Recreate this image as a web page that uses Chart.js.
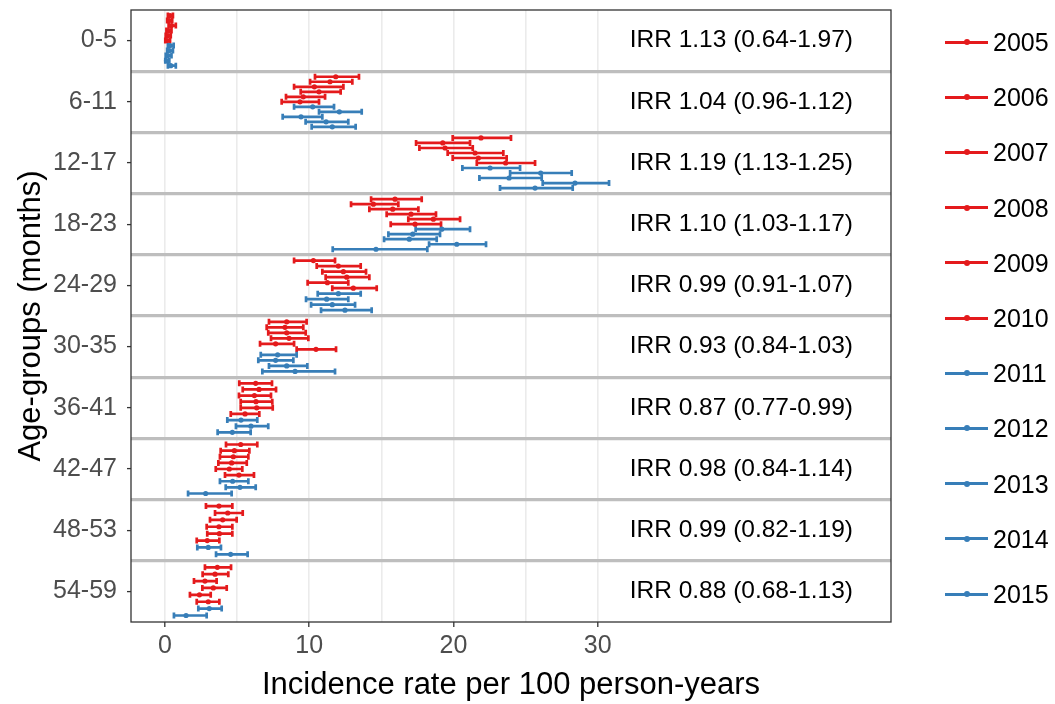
<!DOCTYPE html>
<html>
<head>
<meta charset="utf-8">
<title>Incidence rate by age group</title>
<script src="https://cdn.jsdelivr.net/npm/chart.js@4.4.1/dist/chart.umd.min.js"></script>
<style>
  html, body { margin: 0; padding: 0; background: #fff; }
  #wrap { position: relative; width: 1055px; height: 704px; font-family: "Liberation Sans", Arial, sans-serif; }
  #legend { position: absolute; left: 945px; top: 0; }
  .key { position: absolute; left: 0; width: 110px; height: 30px; }
  .key .seg { position: absolute; left: 0; top: 13.5px; width: 43px; height: 3px; }
  .key .dot { position: absolute; left: 18.5px; top: 12px; width: 6px; height: 6px; border-radius: 50%; }
  .key span { position: absolute; left: 48px; top: 0; font-size: 25px; line-height: 30px; color: #000; }
</style>
</head>
<body>
<div id="wrap">
  <canvas id="chartCanvas" width="1055" height="704"></canvas>
  <div id="legend"></div>
</div>
<script>
const years = [2005, 2006, 2007, 2008, 2009, 2010, 2011, 2012, 2013, 2014, 2015];
const ageGroups = ['0-5', '6-11', '12-17', '18-23', '24-29', '30-35', '36-41', '42-47', '48-53', '54-59'];
const irrLabels = [
  'IRR 1.13 (0.64-1.97)', 'IRR 1.04 (0.96-1.12)', 'IRR 1.19 (1.13-1.25)', 'IRR 1.10 (1.03-1.17)',
  'IRR 0.99 (0.91-1.07)', 'IRR 0.93 (0.84-1.03)', 'IRR 0.87 (0.77-0.99)', 'IRR 0.98 (0.84-1.14)',
  'IRR 0.99 (0.82-1.19)', 'IRR 0.88 (0.68-1.13)'
];
const xTicks = [0, 5, 10, 15, 20, 25, 30];

// one row per age group, one column per year (null = no estimate)
const rateByAge = [
  [0.35, 0.30, 0.45, 0.25, 0.20, 0.15, 0.35, 0.30, 0.20, 0.10, 0.40],
  [11.84, 11.44, 10.36, 10.68, 9.59, 9.36, 10.24, 12.09, 9.43, 11.17, 11.60],
  [21.91, 19.26, 19.42, 21.50, 21.73, 23.62, 22.54, 26.05, 23.86, 28.43, 25.66],
  [15.95, 14.45, 15.79, 17.06, 18.61, 17.34, 19.19, 17.18, 16.94, 20.23, 14.63],
  [10.29, 12.02, 12.37, 12.60, 11.26, 13.06, 12.02, 11.21, 11.60, 12.48, null],
  [8.44, 8.32, 8.44, 8.60, 7.67, 10.47, 7.81, 7.67, 8.44, 9.02, null],
  [6.29, 6.52, 6.20, 6.31, 6.36, 5.55, 5.27, 5.96, 4.67, null, null],
  [5.25, 4.81, 4.74, 4.62, 4.46, 5.13, 4.69, 5.20, 2.82, null, null],
  [3.74, 4.35, 4.00, 3.74, 3.77, 2.93, 3.00, 4.55, null, null, null],
  [3.63, 3.47, 2.77, 3.35, 2.39, 3.00, 3.07, 1.46, null, null, null]
];
const lowerByAge = [
  [0.20, 0.15, 0.25, 0.10, 0.05, 0.02, 0.20, 0.15, 0.05, 0.02, 0.20],
  [10.40, 10.06, 8.95, 9.41, 8.39, 8.09, 8.95, 10.68, 8.16, 9.75, 10.17],
  [19.95, 17.41, 17.64, 19.60, 19.95, 21.62, 20.62, 23.93, 21.80, 26.19, 23.23],
  [14.29, 12.90, 14.17, 15.37, 16.87, 15.65, 17.38, 15.49, 15.19, 18.31, 11.63],
  [8.95, 10.52, 10.91, 11.14, 9.89, 11.60, 10.59, 9.78, 10.13, 10.82, null],
  [7.21, 7.05, 7.16, 7.35, 6.59, 9.13, 6.64, 6.47, 7.21, 6.75, null],
  [5.15, 5.39, 5.13, 5.25, 5.25, 4.56, 4.32, 4.92, 3.65, null, null],
  [4.23, 3.86, 3.81, 3.70, 3.52, 4.16, 3.81, 4.21, 1.60, null, null],
  [2.84, 3.47, 3.12, 2.89, 2.93, 2.20, 2.24, 3.54, null, null, null],
  [2.77, 2.61, 2.01, 2.59, 1.73, 2.20, 2.31, 0.62, null, null, null]
];
const upperByAge = [
  [0.55, 0.50, 0.75, 0.45, 0.40, 0.35, 0.60, 0.55, 0.45, 0.30, 0.75],
  [13.45, 12.99, 12.37, 12.18, 11.10, 10.68, 11.72, 13.64, 10.91, 12.71, 13.22],
  [23.99, 21.15, 21.34, 23.46, 23.69, 25.66, 24.62, 28.20, 26.12, 30.79, 28.27],
  [17.80, 16.18, 17.57, 18.79, 20.46, 19.14, 21.15, 19.07, 18.84, 22.26, 18.19],
  [11.79, 13.57, 13.94, 14.17, 12.71, 14.68, 13.57, 12.71, 13.18, 14.33, null],
  [9.82, 9.59, 9.76, 9.94, 8.95, 11.86, 9.13, 8.90, 9.87, 11.79, null],
  [7.42, 7.70, 7.35, 7.44, 7.47, 6.54, 6.40, 7.16, 5.94, null, null],
  [6.40, 5.85, 5.78, 5.67, 5.36, 6.17, 5.78, 6.29, 4.62, null, null],
  [4.67, 5.39, 4.97, 4.67, 4.67, 3.77, 3.88, 5.73, null, null, null],
  [4.58, 4.39, 3.58, 4.28, 3.17, 3.77, 3.93, 2.89, null, null, null]
];

const RED = '#E41A1C';
const BLUE = '#377EB8';
const FONT = '"Liberation Sans", Arial, sans-serif';
const DODGE = 0.9;

function colorFor(year) {
  return year <= 2010 ? RED : BLUE;
}

// one scatter dataset per year; rows inside an age group are dodged
// over the years that actually have an estimate there
const datasets = years.map(yr => ({
  label: String(yr),
  data: [],
  backgroundColor: colorFor(yr),
  borderColor: colorFor(yr),
  pointRadius: 2.6,
  pointBorderWidth: 0
}));

ageGroups.forEach((g, i) => {
  const present = years.map((_, j) => j).filter(j => rateByAge[i][j] !== null);
  const n = present.length;
  present.forEach((j, k) => {
    datasets[j].data.push({
      x: rateByAge[i][j],
      y: i + (k - (n - 1) / 2) * DODGE / n,
      lo: lowerByAge[i][j],
      hi: upperByAge[i][j]
    });
  });
});

const errorBars = {
  id: 'errorBars',
  beforeDatasetsDraw(chart) {
    const { ctx, scales: { x, y } } = chart;
    ctx.save();
    ctx.lineWidth = 2.7;
    chart.data.datasets.forEach(ds => {
      ctx.strokeStyle = ds.borderColor;
      ds.data.forEach(p => {
        const x0 = x.getPixelForValue(p.lo);
        const x1 = x.getPixelForValue(p.hi);
        const yy = y.getPixelForValue(p.y);
        ctx.beginPath();
        ctx.moveTo(x0, yy); ctx.lineTo(x1, yy);
        ctx.moveTo(x0, yy - 3); ctx.lineTo(x0, yy + 3);
        ctx.moveTo(x1, yy - 3); ctx.lineTo(x1, yy + 3);
        ctx.stroke();
      });
    });
    ctx.restore();
  }
};

const panelText = {
  id: 'panelText',
  afterDatasetsDraw(chart) {
    const { ctx, chartArea: a, scales: { y } } = chart;
    ctx.save();
    ctx.fillStyle = '#000';
    ctx.font = '24.5px ' + FONT;
    ctx.textAlign = 'right';
    ctx.textBaseline = 'middle';
    irrLabels.forEach((txt, i) => {
      ctx.fillText(txt, a.right - 38, y.getPixelForValue(i));
    });
    // panel border
    ctx.strokeStyle = '#333';
    ctx.lineWidth = 1.3;
    ctx.strokeRect(a.left, a.top, a.right - a.left, a.bottom - a.top);
    ctx.restore();
  }
};

const ctx = document.getElementById('chartCanvas').getContext('2d');
new Chart(ctx, {
  type: 'scatter',
  data: { datasets },
  plugins: [errorBars, panelText],
  options: {
    responsive: false,
    animation: false,
    layout: { padding: { top: 10, right: 164, left: 0, bottom: 0 } },
    plugins: { legend: { display: false }, tooltip: { enabled: false } },
    scales: {
      x: {
        type: 'linear',
        min: -2.357,
        max: 50.34,
        afterBuildTicks: axis => { axis.ticks = xTicks.map(v => ({ value: v })); },
        afterFit: axis => { axis.height = 82; axis.paddingLeft = 0; axis.paddingRight = 0; },
        ticks: {
          autoSkip: false,
          maxRotation: 0,
          padding: 4,
          color: '#4d4d4d',
          font: { family: FONT, size: 25 },
          callback: v => (v % 10 === 0 ? String(v) : '')
        },
        grid: {
          color: '#ebebeb',
          lineWidth: 1.6,
          tickLength: 5,
          tickWidth: 1.3,
          tickColor: c => (c.tick && c.tick.value % 10 === 0 ? '#333' : 'rgba(0,0,0,0)')
        },
        border: { display: false },
        title: {
          display: true,
          text: 'Incidence rate per 100 person-years',
          color: '#000',
          font: { family: FONT, size: 31 },
          padding: { top: 0, bottom: 0 }
        }
      },
      y: {
        type: 'linear',
        reverse: true,
        min: -0.5,
        max: 9.5,
        afterBuildTicks: axis => {
          const t = [];
          for (let v = -0.5; v <= 9.5; v += 0.5) t.push({ value: v });
          axis.ticks = t;
        },
        // fixed width, and no extra room reserved for the end labels
        afterFit: axis => { axis.width = 131; axis.paddingTop = 0; axis.paddingBottom = 0; },
        ticks: {
          autoSkip: false,
          padding: 10,
          color: '#4d4d4d',
          font: { family: FONT, size: 25 },
          callback: v => (Number.isInteger(v) ? ageGroups[v] : '')
        },
        grid: {
          color: c => {
            const v = c.tick ? c.tick.value : 0;
            return (!Number.isInteger(v) && v > -0.5 && v < 9.5) ? '#bebebe' : 'rgba(0,0,0,0)';
          },
          lineWidth: 3.2,
          tickLength: 4,
          tickWidth: 1.3,
          tickColor: c => (c.tick && Number.isInteger(c.tick.value) ? '#333' : 'rgba(0,0,0,0)')
        },
        border: { display: false },
        title: {
          display: true,
          text: 'Age-groups (months)',
          color: '#000',
          font: { family: FONT, size: 31 },
          padding: { top: 13, bottom: 0 }
        }
      }
    }
  }
});

// legend: one key per year, line with a dot in the middle
const legend = document.getElementById('legend');
years.forEach((yr, k) => {
  const key = document.createElement('div');
  key.className = 'key';
  key.style.top = (42 + 55.2 * k - 15) + 'px';
  key.innerHTML = '<div class="seg" style="background:' + colorFor(yr) + '"></div>' +
    '<div class="dot" style="background:' + colorFor(yr) + '"></div>' +
    '<span>' + yr + '</span>';
  legend.appendChild(key);
});
</script>
</body>
</html>
